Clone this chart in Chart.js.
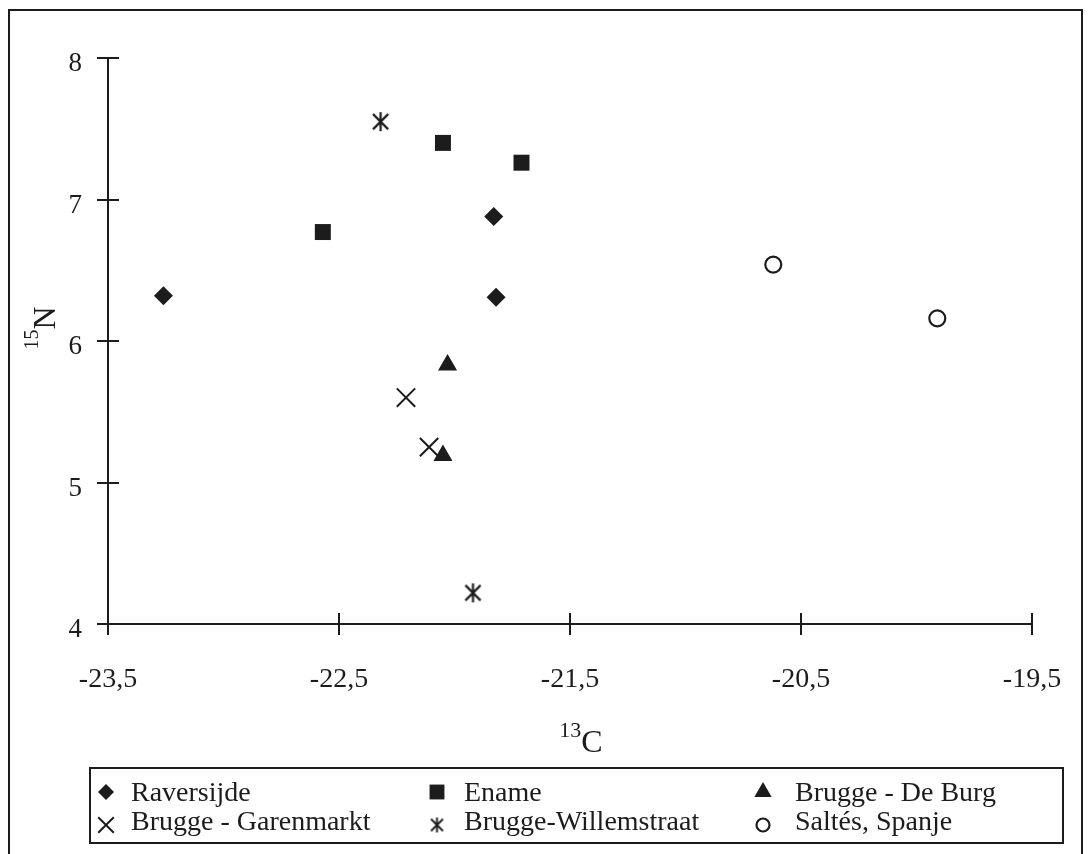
<!DOCTYPE html>
<html lang="nl">
<head>
<meta charset="utf-8">
<title>15N / 13C</title>
<script src="https://cdn.jsdelivr.net/npm/chart.js@4.4.1/dist/chart.umd.min.js"></script>
<style>
  html, body { margin: 0; padding: 0; background: #ffffff; }
  #grafica { display: block; }
</style>
</head>
<body>
<canvas id="grafica" width="1090" height="854"></canvas>
<script>
// Datos (13C en el eje x, 15N en el eje y)
const series = ["Raversijde", "Ename", "Brugge - De Burg", "Brugge - Garenmarkt", "Brugge-Willemstraat", "Saltés, Spanje"];

const raversijdeX = [-23.26, -21.83, -21.82];
const raversijdeY = [6.32, 6.88, 6.31];

const enameX = [-22.57, -22.05, -21.71];
const enameY = [6.77, 7.40, 7.26];

const deBurgX = [-22.03, -22.05];
const deBurgY = [5.83, 5.19];

const garenmarktX = [-22.21, -22.11];
const garenmarktY = [5.60, 5.25];

const willemstraatX = [-22.32, -21.92];
const willemstraatY = [7.55, 4.22];

const saltesX = [-20.62, -19.91];
const saltesY = [6.54, 6.16];

const xTicks = [-23.5, -22.5, -21.5, -20.5, -19.5];
const yTicks = [4, 5, 6, 7, 8];

const TINTA = "#1c1c1c";
const FUENTE = "Liberation Serif";

// asterisco de 6 brazos (linea vertical + X) como imagen
function crearAsterisco(tam, grosor) {
    const c = document.createElement("canvas");
    c.width = tam;
    c.height = tam;
    const g = c.getContext("2d");
    const m = tam / 2;
    const r = tam / 2 - 1;
    const d = r * 0.8;
    g.strokeStyle = TINTA;
    g.lineWidth = grosor;
    g.beginPath();
    g.moveTo(m, m - r); g.lineTo(m, m + r);
    g.moveTo(m - d, m - d); g.lineTo(m + d, m + d);
    g.moveTo(m + d, m - d); g.lineTo(m - d, m + d);
    g.stroke();
    return c;
}

const asteriscoGrande = crearAsterisco(21, 2.2);
const asteriscoPequeno = crearAsterisco(17, 1.9);

// un estilo de marcador por serie
const marcadores = [
    { estilo: "rectRot", radio: 9.5, radioLeyenda: 8, borde: 0, hueco: false },
    { estilo: "rect", radio: 11.3, radioLeyenda: 10.5, borde: 0, hueco: false },
    { estilo: "triangle", radio: 11, radioLeyenda: 10, borde: 0, hueco: false },
    { estilo: "crossRot", radio: 13, radioLeyenda: 11, borde: 2, hueco: false },
    { estilo: asteriscoGrande, estiloLeyenda: asteriscoPequeno, radio: 10, radioLeyenda: 8, borde: 0, hueco: false },
    { estilo: "circle", radio: 8, radioLeyenda: 6.5, borde: 2.2, hueco: true }
];

const valoresX = [raversijdeX, enameX, deBurgX, garenmarktX, willemstraatX, saltesX];
const valoresY = [raversijdeY, enameY, deBurgY, garenmarktY, willemstraatY, saltesY];

function formatoComa(v) {
    return String(v).replace(".", ",");
}

// ticks que cruzan el eje (la mitad interior), marco y titulos de ejes
const ticksInteriores = {
    id: "ticksInteriores",
    afterDraw(chart) {
        const ctx = chart.ctx;
        const area = chart.chartArea;
        const ejeX = chart.scales.x;
        const ejeY = chart.scales.y;
        ctx.save();
        ctx.strokeStyle = TINTA;
        ctx.lineWidth = 2;
        ctx.beginPath();
        ejeX.ticks.forEach(t => {
            const px = Math.round(ejeX.getPixelForValue(t.value));
            ctx.moveTo(px, area.bottom);
            ctx.lineTo(px, area.bottom - 11);
        });
        ejeY.ticks.forEach(t => {
            const py = Math.round(ejeY.getPixelForValue(t.value));
            ctx.moveTo(area.left, py);
            ctx.lineTo(area.left + 11, py);
        });
        ctx.stroke();

        // marco exterior
        ctx.lineWidth = 2;
        ctx.strokeRect(9, 10, 1073, 900);

        // titulo eje x: 13C
        ctx.fillStyle = TINTA;
        ctx.textBaseline = "alphabetic";
        ctx.textAlign = "left";
        ctx.font = "22px '" + FUENTE + "'";
        const w13 = ctx.measureText("13").width;
        ctx.font = "32px '" + FUENTE + "'";
        const wC = ctx.measureText("C").width;
        const cx = (area.left + area.right) / 2 + 11;
        let x0 = cx - (w13 + wC) / 2;
        ctx.font = "22px '" + FUENTE + "'";
        ctx.fillText("13", x0, area.bottom + 113);
        ctx.font = "32px '" + FUENTE + "'";
        ctx.fillText("C", x0 + w13, area.bottom + 128);

        // titulo eje y: 15N girado
        ctx.translate(55, (area.top + area.bottom) / 2 - 13);
        ctx.rotate(-Math.PI / 2);
        ctx.font = "20px '" + FUENTE + "'";
        const w15 = ctx.measureText("15").width;
        ctx.font = "32px '" + FUENTE + "'";
        const wN = ctx.measureText("N").width;
        x0 = -(w15 + wN) / 2;
        ctx.font = "20px '" + FUENTE + "'";
        ctx.fillText("15", x0, -17);
        ctx.font = "32px '" + FUENTE + "'";
        ctx.fillText("N", x0 + w15, 0);
        ctx.restore();
    }
};

// leyenda en caja, tres columnas
const leyendaCaja = {
    id: "leyendaCaja",
    afterDraw(chart) {
        const ctx = chart.ctx;
        const colMarcador = [106, 437, 763];
        const colTexto = [131, 464, 795];
        const filaMarcador = [792, 825];
        const filaBase = [801, 830];
        ctx.save();
        ctx.strokeStyle = TINTA;
        ctx.lineWidth = 2;
        ctx.strokeRect(90, 768, 973, 75);

        chart.data.datasets.forEach((ds, i) => {
            const col = i % 3;
            const fila = Math.floor(i / 3);
            const m = marcadores[i];
            ctx.fillStyle = m.hueco ? "#ffffff" : TINTA;
            ctx.strokeStyle = TINTA;
            ctx.lineWidth = m.borde;
            Chart.helpers.drawPoint(ctx, {
                pointStyle: m.estiloLeyenda || m.estilo,
                radius: m.radioLeyenda,
                borderWidth: m.borde,
                rotation: 0
            }, colMarcador[col], filaMarcador[fila]);

            ctx.fillStyle = TINTA;
            ctx.font = "28px '" + FUENTE + "'";
            ctx.textAlign = "left";
            ctx.textBaseline = "alphabetic";
            ctx.fillText(ds.label, colTexto[col], filaBase[fila]);
        });
        ctx.restore();
    }
};

// arma los datasets a partir de los arreglos
const datasets = series.map((nombre, i) => {
    const m = marcadores[i];
    return {
        label: nombre,
        data: valoresX[i].map((x, k) => ({ x: x, y: valoresY[i][k] })),
        pointStyle: m.estilo,
        pointRadius: m.radio,
        pointHoverRadius: m.radio,
        pointBackgroundColor: m.hueco ? "#ffffff" : TINTA,
        pointBorderColor: TINTA,
        pointBorderWidth: m.borde,
        showLine: false
    };
});

new Chart(document.getElementById("grafica"), {
    type: "scatter",
    data: { datasets: datasets },
    options: {
        responsive: false,
        animation: false,
        devicePixelRatio: 1,
        layout: { padding: { top: 58, right: 58, left: 0, bottom: 0 } },
        plugins: {
            legend: { display: false },
            title: { display: false },
            tooltip: { enabled: false }
        },
        scales: {
            x: {
                type: "linear",
                position: "bottom",
                min: -23.5,
                max: -19.5,
                afterBuildTicks: s => { s.ticks = xTicks.map(v => ({ value: v })); },
                afterFit: s => { s.height = 230; },
                grid: { drawOnChartArea: false, drawTicks: true, tickLength: 11, color: TINTA, lineWidth: 2 },
                border: { display: true, color: TINTA, width: 2 },
                ticks: {
                    padding: 28,
                    color: TINTA,
                    maxRotation: 0,
                    font: { family: FUENTE, size: 28 },
                    callback: v => formatoComa(v)
                }
            },
            y: {
                type: "linear",
                min: 4,
                max: 8,
                afterBuildTicks: s => { s.ticks = yTicks.map(v => ({ value: v })); },
                afterFit: s => { s.width = 108; },
                grid: { drawOnChartArea: false, drawTicks: true, tickLength: 11, color: TINTA, lineWidth: 2 },
                border: { display: true, color: TINTA, width: 2 },
                ticks: {
                    padding: 15,
                    labelOffset: 6,
                    color: TINTA,
                    font: { family: FUENTE, size: 27 },
                    callback: v => formatoComa(v)
                }
            }
        }
    },
    plugins: [ticksInteriores, leyendaCaja]
});
</script>
</body>
</html>
